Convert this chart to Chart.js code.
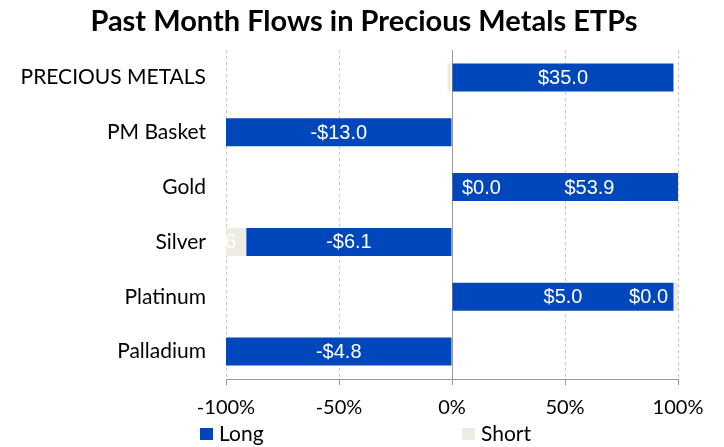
<!DOCTYPE html>
<html>
<head>
<meta charset="utf-8">
<script src="https://cdn.jsdelivr.net/npm/chart.js@4.4.0/dist/chart.umd.min.js"></script>
<style>
  html, body { margin: 0; padding: 0; background: #fff; }
</style>
</head>
<body>
<canvas id="flows-chart" width="724" height="447"></canvas>
<script>
// Bar length = share of the month's flows (%), label = dollar flow ($m)
const categories = ['PRECIOUS METALS', 'PM Basket', 'Gold', 'Silver', 'Platinum', 'Palladium'];
const longShare = [98, -100, 100, -91, 98, -100];
const shortShare = [-2, 0, 0, -9, 2, 0];
const longFlows = [35.0, -13.0, 53.9, -6.1, 5.0, -4.8];
const shortFlows = [null, null, 0.0, -0.6, 0.0, null];
const xTicks = [-100, -50, 0, 50, 100];

const LONG_COLOR = '#0047bb';
const SHORT_COLOR = '#eeece1';
const TEXT_FONT = 'Lato, "DejaVu Sans", sans-serif';
const LABEL_FONT = '20px "Liberation Sans", Arial, sans-serif';

function formatFlow(v) {
    return (v < 0 ? '-$' : '$') + Math.abs(v).toFixed(1);
}

// Title across the top
const titlePlugin = {
    id: 'flowTitle',
    afterDraw(chart) {
        const ctx = chart.ctx;
        ctx.save();
        ctx.font = 'bold 29px ' + TEXT_FONT;
        ctx.fillStyle = '#000';
        ctx.textAlign = 'center';
        ctx.textBaseline = 'middle';
        ctx.fillText('Past Month Flows in Precious Metals ETPs', 364, 22);
        ctx.restore();
    }
};

// Legend under the axis, items spread wide
const legendPlugin = {
    id: 'flowLegend',
    afterDraw(chart) {
        const ctx = chart.ctx;
        const items = [
            { text: 'Long', color: LONG_COLOR, x: 200 },
            { text: 'Short', color: SHORT_COLOR, x: 462 }
        ];
        ctx.save();
        ctx.font = '21px ' + TEXT_FONT;
        ctx.textBaseline = 'middle';
        ctx.textAlign = 'left';
        items.forEach(it => {
            ctx.fillStyle = it.color;
            ctx.fillRect(it.x, 428, 13, 12);
            ctx.fillStyle = '#000';
            ctx.fillText(it.text, it.x + 19, 434);
        });
        ctx.restore();
    }
};

// Dollar labels inside each segment. Narrow short segments push their label
// into the long bar (empty ones sit on the zero line); the long label then
// centres itself in whatever room is left.
const flowLabels = {
    id: 'flowLabels',
    afterDatasetsDraw(chart) {
        const ctx = chart.ctx;
        const area = chart.chartArea;
        const zero = chart.scales.x.getPixelForValue(0);
        const pad = 10;
        const longMeta = chart.getDatasetMeta(0);
        const shortMeta = chart.getDatasetMeta(1);

        ctx.save();
        ctx.beginPath();
        ctx.rect(area.left, area.top, area.right - area.left, area.bottom - area.top);
        ctx.clip();
        ctx.font = LABEL_FONT;
        ctx.fillStyle = '#fff';
        ctx.textBaseline = 'middle';

        categories.forEach((cat, i) => {
            let taken = null;

            // short segment
            const sBar = shortMeta.data[i];
            if (shortFlows[i] !== null) {
                const text = formatFlow(shortFlows[i]);
                const w = ctx.measureText(text).width;
                const left = Math.min(sBar.x, sBar.base);
                const right = Math.max(sBar.x, sBar.base);
                const mid = shortShare[i] === 0 ? zero : (left + right) / 2;
                let tx;
                if (right - left >= w + 4) {
                    tx = mid - w / 2;
                } else if (shortShare[i] >= 0) {
                    tx = Math.min(mid + pad, area.right - pad - w);
                } else {
                    tx = mid - w;
                }
                ctx.textAlign = 'left';
                ctx.fillText(text, tx, sBar.y + 1);
                taken = [tx, tx + w];
            }

            // long segment
            const lBar = longMeta.data[i];
            const text = formatFlow(longFlows[i]);
            const left = Math.min(lBar.x, lBar.base);
            const right = Math.max(lBar.x, lBar.base);
            let cx = (left + right) / 2;
            if (taken && longShare[i] > 0 && taken[0] < zero + pad * 2 && taken[1] > left) {
                cx = (taken[1] + right) / 2;
            }
            ctx.textAlign = 'center';
            ctx.fillText(text, cx, lBar.y + 1);
        });
        ctx.restore();
    }
};

new Chart(document.getElementById('flows-chart'), {
    type: 'bar',
    data: {
        labels: categories,
        datasets: [
            {
                label: 'Long',
                data: longShare,
                backgroundColor: LONG_COLOR,
                barPercentage: 0.51,
                categoryPercentage: 1.0
            },
            {
                label: 'Short',
                data: shortShare,
                backgroundColor: SHORT_COLOR,
                barPercentage: 0.51,
                categoryPercentage: 1.0
            }
        ]
    },
    options: {
        indexAxis: 'y',
        responsive: false,
        animation: false,
        layout: { padding: { top: 50, right: 46, bottom: 28, left: 0 } },
        scales: {
            x: {
                type: 'linear',
                stacked: true,
                min: -100,
                max: 100,
                afterBuildTicks: axis => { axis.ticks = xTicks.map(v => ({ value: v })); },
                afterFit: axis => { axis.height = 40; },
                ticks: {
                    callback: v => v + '%',
                    color: '#000',
                    font: { family: TEXT_FONT, size: 20 },
                    padding: 11,
                    maxRotation: 0
                },
                grid: {
                    color: c => (c.tick && c.tick.value === 0) ? '#9a9a9a' : '#c4c4c4',
                    tickColor: '#9a9a9a',
                    tickLength: 6,
                    tickBorderDash: []
                },
                border: {
                    display: true,
                    color: '#9a9a9a',
                    dash: c => (c.tick && c.tick.value === 0) ? [] : [3, 3]
                }
            },
            y: {
                stacked: true,
                afterFit: axis => { axis.width = 226; },
                grid: { display: false, drawTicks: false },
                border: { display: false },
                ticks: {
                    color: '#000',
                    font: { family: TEXT_FONT, size: 21 },
                    padding: 20
                }
            }
        },
        plugins: {
            legend: { display: false },
            title: { display: false },
            tooltip: { enabled: false }
        }
    },
    plugins: [flowLabels, titlePlugin, legendPlugin]
});
</script>
</body>
</html>
